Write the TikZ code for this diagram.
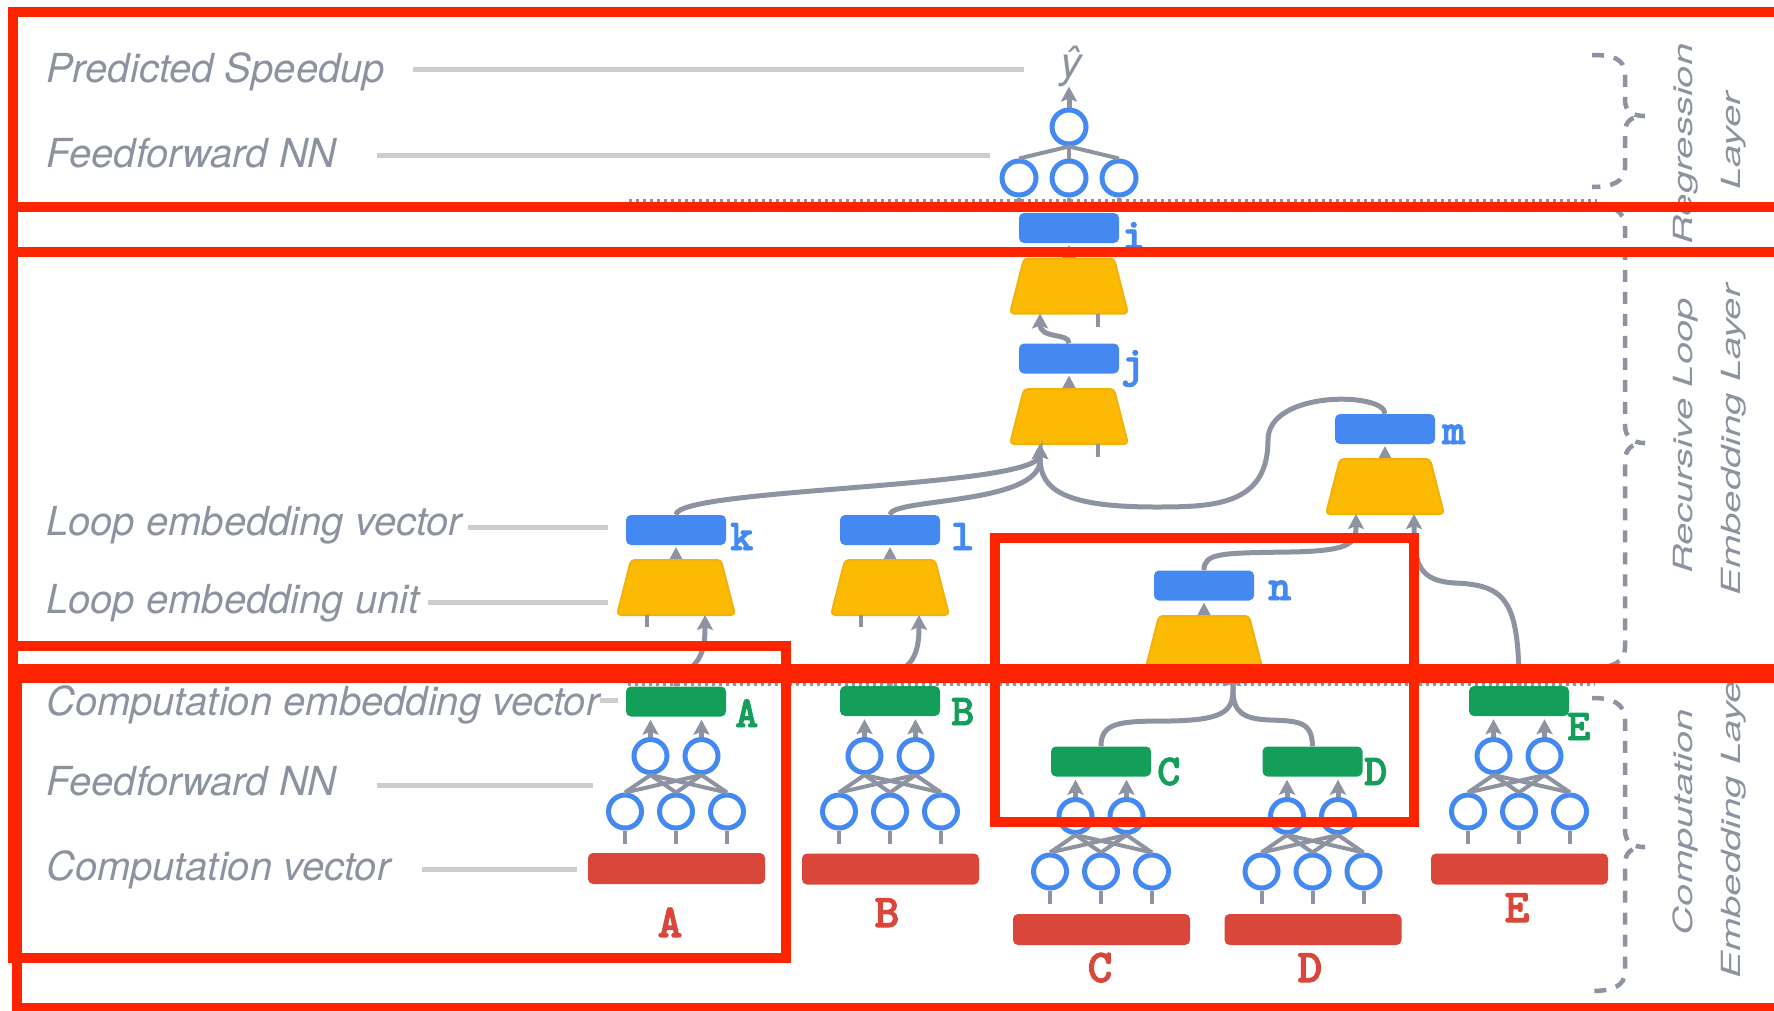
\documentclass[tikz,border=0pt]{standalone}
\usepackage{fontspec}
\usepackage{graphicx}
\usetikzlibrary{arrows.meta,calc}
\newfontfamily\heros{TeX Gyre Heros}
\newfontfamily\tagmono{lmmonolt10-bold.otf}[FakeBold=2.2]

\definecolor{txtgray}{RGB}{140,146,160}
\definecolor{wiregray}{RGB}{141,147,160}
\definecolor{guidegray}{RGB}{205,205,205}
\definecolor{gblue}{RGB}{68,136,242}
\definecolor{ggreen}{RGB}{19,158,90}
\definecolor{gred}{RGB}{219,70,58}
\definecolor{gyellow}{RGB}{252,186,3}
\definecolor{gyellowedge}{RGB}{242,178,10}
\definecolor{framered}{RGB}{255,36,0}

% feedforward block: #1 prefix, #2 centre x, #3 y of the upper row, #4 box fed by it
\newcommand\compnet[4]{%
  \foreach \s/\dx in {1/-25.5,2/25.5}
    \node[neuron] (#1t\s) at ($(#2,#3)+(\dx,0)$) {};
  \foreach \s/\dx in {1/-51,2/0,3/51}
    \node[neuron] (#1b\s) at ($(#2,#3)+(\dx,55.5)$) {};
  \foreach \s in {1,2,3}{
    \foreach \t in {1,2}
      \draw[thinwire] (#1b\s.north) -- (#1t\t.south);
    \draw[thinwire] (#1b\s.south) -- ++(0,13);
  }
  \foreach \t in {1,2}
    \draw[flow, shorten >=3pt] (#1t\t.north) -- (#1t\t.north |- #4.south);
}

% loop embedding unit (trapezoid): #1 name, #2 centre
\newcommand\loopunit[2]{%
  \node[unitbox] (#1) at (#2) {};
  \draw[unitshape] (#1.south west) -- ($(#1.north west)+(14,0)$)
    -- ($(#1.north east)+(-14,0)$) -- (#1.south east) -- cycle;
}

\begin{document}
\begin{tikzpicture}[x=1pt,y=-1pt,
  lbl/.style={font=\heros\itshape\fontsize{40}{40}\selectfont, text=txtgray, anchor=base west, inner sep=0},
  sidelbl/.style={font=\heros\itshape\fontsize{40}{40}\selectfont, text=txtgray, anchor=base, inner sep=0, rotate=90},
  guideline/.style={draw=guidegray, line width=5pt},
  vecbox/.style={rectangle, rounded corners=5pt, minimum width=100pt, minimum height=30pt, inner sep=0},
  loopvec/.style={vecbox, fill=gblue},
  compvec/.style={vecbox, fill=ggreen},
  inputvec/.style={rectangle, rounded corners=5pt, minimum width=177pt, minimum height=31pt, inner sep=0, fill=gred},
  unitbox/.style={rectangle, minimum width=118pt, minimum height=55pt, inner sep=0, outer sep=0},
  unitshape/.style={fill=gyellow, draw=gyellowedge, line width=2pt, rounded corners=4pt},
  neuron/.style={circle, draw=gblue, line width=5pt, fill=white, minimum size=33pt, inner sep=0},
  wire/.style={draw=wiregray, line width=5pt},
  thinwire/.style={draw=wiregray, line width=4pt},
  flow/.style={wire, -{Stealth[length=15pt,width=16pt,inset=3pt]}},
  tagfont/.style={font=\tagmono\fontsize{44}{44}\selectfont, inner sep=0},
  tagb/.style={tagfont, text=gblue, anchor=base west},
  tagg/.style={tagfont, text=ggreen, anchor=base west},
  tagr/.style={tagfont, font=\tagmono\fontsize{47}{47}\selectfont, text=gred, anchor=base},
  layersep/.style={draw=wiregray, line width=4pt, dash pattern=on 2.5pt off 4.5pt},
  layerbrace/.style={draw=wiregray, line width=4.5pt, dash pattern=on 12pt off 10pt},
  markframe/.style={draw=framered, line width=10pt}
]
\useasboundingbox (0,0) rectangle (1774,1010);
\clip (0,0) rectangle (1774,1010);

% ---- captions on the left ----
\node[lbl] (tPred)     at (46,82)  {Predicted Speedup};
\node[lbl] (tFFtop)    at (46,167) {Feedforward NN};
\node[lbl] (tLoopVec)  at (46,535) {Loop embedding vector};
\node[lbl] (tLoopUnit) at (46,613) {Loop embedding unit};
\node[lbl] (tCompEmb)  at (46,715) {Computation embedding vector};
\node[lbl] (tFFbot)    at (46,795) {Feedforward NN};
\node[lbl] (tCompVec)  at (46,880) {Computation vector};

\coordinate (g1a) at (413,69.5);  \coordinate (g1b) at (1024,69.5);
\coordinate (g2a) at (377,155);   \coordinate (g2b) at (990,155);
\coordinate (g3a) at (468,527);   \coordinate (g3b) at (608,527);
\coordinate (g4a) at (428,602);   \coordinate (g4b) at (608,602);
\coordinate (g5a) at (600,700);   \coordinate (g5b) at (618,700);
\coordinate (g6a) at (377,785);   \coordinate (g6b) at (593,785);
\coordinate (g7a) at (422,869.5); \coordinate (g7b) at (577,869.5);
\foreach \g in {1,...,7} \draw[guideline] (g\g a) -- (g\g b);

% ---- layer separators ----
\coordinate (s1a) at (629,201); \coordinate (s1b) at (1597,201);
\coordinate (s2a) at (628,684); \coordinate (s2b) at (1595,684);
\draw[layersep] (s1a) -- (s1b);
\draw[layersep] (s2a) -- (s2b);

% ---- regression head ----
\node[neuron, minimum size=34pt] (r1) at (1019,178) {};
\node[neuron, minimum size=34pt] (r2) at (1069,178) {};
\node[neuron, minimum size=34pt] (r3) at (1119,178) {};
\node[neuron, minimum size=34pt] (rtop) at (1069,127) {};
\node[font=\heros\itshape\fontsize{43}{43}\selectfont, text=txtgray, anchor=base, inner sep=0] (yhat) at (1071,77) {ŷ};
\draw[flow] (rtop.north) -- (rtop.north |- yhat.south);
\foreach \c in {r1,r2,r3}{
  \draw[thinwire] (\c.north) -- (rtop.south);
  \draw[thinwire] (\c.south) -- ++(0,6);
}

% ---- loop embedding vectors and units ----
\node[loopvec] (i) at (1069,228) {};
\node[loopvec] (j) at (1069,358.5) {};
\node[loopvec] (k) at (676,530) {};
\node[loopvec] (l) at (890,530) {};
\node[loopvec] (m) at (1385,429) {};
\node[loopvec] (n) at (1204,585.5) {};

% unit outputs start inside the trapezoids, which are drawn over them
\coordinate (ui-out) at (1069,276);
\coordinate (uj-out) at (1069,406);
\coordinate (uk-out) at (676,577);
\coordinate (ul-out) at (890,577);
\coordinate (um-out) at (1385,476);
\coordinate (un-out) at (1204,633);
\foreach \u/\v in {ui/i,uj/j,uk/k,ul/l,um/m,un/n}
  \draw[flow, shorten >=2pt] (\u-out) -- (\v.south);

\loopunit{ui}{1069,286}
\loopunit{uj}{1069,416.5}
\loopunit{uk}{676,587.5}
\loopunit{ul}{890,587.5}
\loopunit{um}{1385,486.5}
\loopunit{un}{1204,643.5}

\foreach \u in {ui,uj,uk,ul,um,un}{
  \coordinate (\u-L) at ($(\u.south)+(-29,0)$);
  \coordinate (\u-R) at ($(\u.south)+(29,0)$);
}
\foreach \p in {ui-R,uj-R}  \draw[thinwire] (\p) -- ++(0,13);
\foreach \p in {uk-L,ul-L,un-L} \draw[thinwire] (\p) -- ++(0,12);

% ---- computation embedding vectors ----
\node[compvec] (A) at (676,701.5) {};
\node[compvec] (B) at (890,701) {};
\node[compvec] (C) at (1101,761.5) {};
\node[compvec] (D) at (1312.5,761.5) {};
\node[compvec] (E) at (1519,701) {};

\node[inputvec] (xA) at (676.5,868.5) {};
\node[inputvec] (xB) at (890.5,869) {};
\node[inputvec] (xC) at (1101.5,929.5) {};
\node[inputvec] (xD) at (1313,929.5) {};
\node[inputvec] (xE) at (1519.5,869) {};

\compnet{nA}{676}{756}{A}
\compnet{nB}{890}{756}{B}
\compnet{nC}{1101}{816}{C}
\compnet{nD}{1312.5}{816}{D}
\compnet{nE}{1519}{756}{E}

% ---- tree connections ----
\draw[flow] (j.north) .. controls (1069,332) and (1040,340) .. (1040,324) -- (ui-L);
\draw[flow] (k.north) .. controls (676,488) and (1040,488) .. (1040,455) -- (uj-L);
\draw[flow] (l.north) .. controls (890,498) and (1040,505) .. (1040,460) -- (uj-L);
\draw[flow] (m.north) .. controls (1385,392) and (1268,390) .. (1268,440)
  .. controls (1268,505) and (1215,507) .. (1156,507)
  .. controls (1065,507) and (1040,490) .. (1040,458) -- (uj-L);
\draw[flow] (A.north) .. controls (676,665) and (705,678) .. (705,628) -- (uk-R);
\draw[flow] (B.north) .. controls (890,665) and (919,678) .. (919,628) -- (ul-R);
\draw[flow] (E.north) .. controls (1519,600) and (1505,585) .. (1455,583)
  .. controls (1420,581) and (1414,565) .. (1414,528) -- (um-R);
\draw[flow] (n.north) .. controls (1204,553) and (1220,553) .. (1290,552)
  .. controls (1345,551) and (1356,545) .. (1356,528) -- (um-L);
\draw[flow] (C.north) .. controls (1101,722) and (1120,721) .. (1170,721)
  .. controls (1222,720) and (1233,712) .. (1233,690) -- (un-R);
\draw[flow] (D.north) .. controls (1312,722) and (1300,721) .. (1270,720)
  .. controls (1243,719) and (1233,712) .. (1233,690) -- (un-R);

% ---- tags ----
\node[tagb] (ti) at (1122,249) {i};
\node[tagb] (tj) at (1121,377) {j};
\node[tagb] (tk) at (730,550) {k};
\node[tagb] (tl) at (951,550) {l};
\node[tagb] (tm) at (1442,444) {m};
\node[tagb] (tn) at (1268,600) {n};
\node[tagg] (tA) at (735,727) {A};
\node[tagg] (tB) at (951,725) {B};
\node[tagg] (tC) at (1157,785) {C};
\node[tagg] (tD) at (1364,785) {D};
\node[tagg] (tE) at (1567,740) {E};
\node[tagr] (rA) at (670,937) {A};
\node[tagr] (rB) at (887,927) {B};
\node[tagr] (rC) at (1100,982) {C};
\node[tagr] (rD) at (1310,982) {D};
\node[tagr] (rE) at (1517,922) {E};

% ---- layer names and braces ----
\node[sidelbl] (L1a) at (1692,144) {\scalebox{1}[0.66]{Regression}};
\node[sidelbl] (L1b) at (1740,141) {\scalebox{1}[0.66]{Layer}};
\node[sidelbl] (L2a) at (1692,436) {\scalebox{1}[0.66]{Recursive Loop}};
\node[sidelbl] (L2b) at (1740,440) {\scalebox{1}[0.66]{Embedding Layer}};
\node[sidelbl] (L3a) at (1692,822) {\scalebox{1}[0.66]{Computation}};
\node[sidelbl] (L3b) at (1740,823) {\scalebox{1}[0.66]{Embedding Layer}};

\draw[layerbrace] (1592,55) .. controls (1612,55) and (1625,58) .. (1625,75) -- (1625,100)
  .. controls (1625,111) and (1632,116) .. (1645,116) .. controls (1632,116) and (1625,121) .. (1625,132)
  -- (1625,167) .. controls (1625,182) and (1612,187) .. (1592,187);
\draw[layerbrace] (1592,205) .. controls (1612,205) and (1625,210) .. (1625,228) -- (1625,425)
  .. controls (1625,437) and (1632,443) .. (1645,443) .. controls (1632,443) and (1625,449) .. (1625,461)
  -- (1625,648) .. controls (1625,662) and (1612,668) .. (1592,668);
\draw[layerbrace] (1592,698) .. controls (1612,698) and (1625,703) .. (1625,720) -- (1625,830)
  .. controls (1625,842) and (1632,847) .. (1645,847) .. controls (1632,847) and (1625,852) .. (1625,864)
  -- (1625,972) .. controls (1625,986) and (1612,991) .. (1592,991);

% ---- highlight frames ----
\draw[markframe] (13,12) rectangle (1790,207);
\draw[markframe] (13,207) rectangle (1790,252);
\draw[markframe] (13,252) rectangle (1790,669);
\draw[markframe] (13,646) rectangle (786,958);
\draw[markframe] (994.5,538) rectangle (1413.5,822);
\draw[markframe] (17,678) rectangle (1790,1008);
\end{tikzpicture}
\end{document}
